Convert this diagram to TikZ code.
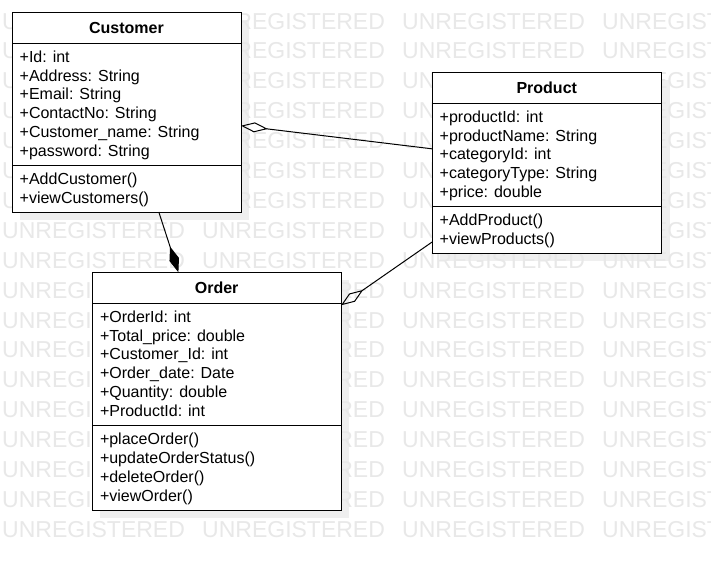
\documentclass[tikz,border=0pt]{standalone}
\usepackage{fontspec}
\setmainfont{Liberation Sans}
\usetikzlibrary{arrows.meta}
\definecolor{wm}{HTML}{E8E8E8}
\definecolor{shadowc}{HTML}{EFEFEF}
\begin{document}
\begin{tikzpicture}[x=1pt,y=-1pt,
 classbox/.style={draw=black, fill=white, line width=1pt, inner sep=0pt, outer sep=0pt, anchor=north west},
 member/.style={anchor=base west, inner sep=0pt, font=\fontsize{16}{19}\selectfont},
 classtitle/.style={anchor=base, inner sep=0pt, font=\fontsize{16}{19}\selectfont\bfseries},
 wmtext/.style={anchor=base west, inner sep=0pt, text=wm, font=\fontsize{23}{26}\selectfont},
 aggr/.style={draw=black, line width=1pt, -{Diamond[open,length=27pt,width=10pt]}},
 compo/.style={draw=black, line width=1pt, -{Diamond[length=27pt,width=10pt]}},
 sepline/.style={draw=black, line width=1pt},
 shadowbox/.style={fill=shadowc, draw=none}]
\useasboundingbox[fill=white] (0,0) rectangle (711,560);
% shadows
\fill[shadowbox] (20,20) rectangle (249,220);
\fill[shadowbox] (440,80) rectangle (669.5,261.3);
\fill[shadowbox] (100.3,280.3) rectangle (349,518);
% watermark
\begin{scope}
\clip (0,0) rectangle (711,560);
\foreach \r in {0,...,17}{
  \foreach \c in {0,...,3}{
    \node[wmtext] (wm-\r-\c) at ({2+200*\c},{29+29.9*\r}) {UNREGISTERED};
  }
}
\end{scope}
% Customer
\node[classbox, minimum width=229pt, minimum height=200pt] (cust) at (12,12) {};
\node[classtitle] (custT) at (126.5,33.3) {Customer};
\draw[sepline] (12,43.3) -- (241,43.3);
\draw[sepline] (12,165.7) -- (241,165.7);
\foreach \t [count=\i from 0] in {+Id: int,+Address: String,+Email: String,+ContactNo: String,+Customer\_name: String,+password: String}{
  \node[member] (custA\i) at (19.5,{62.3+18.8*\i}) {\t};
}
\foreach \t [count=\i from 0] in {+AddCustomer(),+viewCustomers()}{
  \node[member] (custM\i) at (19.5,{184.7+18.8*\i}) {\t};
}
% Product
\node[classbox, minimum width=229.5pt, minimum height=181.3pt] (prod) at (432,72) {};
\node[classtitle] (prodT) at (546.75,93.4) {Product};
\draw[sepline] (432,103.3) -- (661.5,103.3);
\draw[sepline] (432,206.7) -- (661.5,206.7);
\foreach \t [count=\i from 0] in {+productId: int,+productName: String,+categoryId: int,+categoryType: String,+price: double}{
  \node[member] (prodA\i) at (439.5,{122.3+18.8*\i}) {\t};
}
\foreach \t [count=\i from 0] in {+AddProduct(),+viewProducts()}{
  \node[member] (prodM\i) at (439.5,{225.7+18.8*\i}) {\t};
}
% Order
\node[classbox, minimum width=248.7pt, minimum height=237.7pt] (order) at (92.3,272.3) {};
\node[classtitle] (orderT) at (216.65,293.6) {Order};
\draw[sepline] (92.3,303.3) -- (341,303.3);
\draw[sepline] (92.3,425.7) -- (341,425.7);
\foreach \t [count=\i from 0] in {+OrderId: int,+Total\_price: double,+Customer\_Id: int,+Order\_date: Date,+Quantity: double,+ProductId: int}{
  \node[member] (orderA\i) at (99.8,{322.3+18.8*\i}) {\t};
}
\foreach \t [count=\i from 0] in {+placeOrder(),+updateOrderStatus(),+deleteOrder(),+viewOrder()}{
  \node[member] (orderM\i) at (99.8,{444.7+18.8*\i}) {\t};
}
% connectors
\draw[aggr] (prod) -- (cust);
\draw[compo] (cust) -- (order);
\draw[aggr] (prod) -- (order);
\end{tikzpicture}
\end{document}
